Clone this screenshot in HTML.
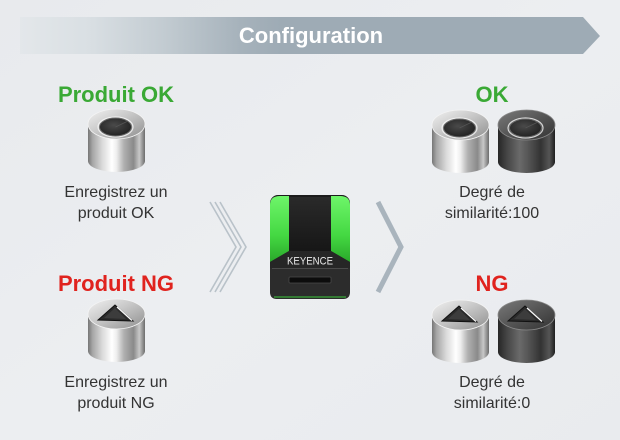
<!DOCTYPE html>
<html><head><meta charset="utf-8"><style>
html,body{margin:0;padding:0;background:#eaecef;}
svg{display:block;font-family:"Liberation Sans",sans-serif;}
</style></head><body>
<svg width="620" height="440" viewBox="0 0 620 440" xmlns="http://www.w3.org/2000/svg">
<defs>
  <linearGradient id="bg" x1="0" y1="0" x2="1" y2="1">
    <stop offset="0" stop-color="#e8eaed"/><stop offset="0.5" stop-color="#eceef1"/><stop offset="1" stop-color="#e9ebee"/>
  </linearGradient>
  <linearGradient id="ban" x1="20" y1="0" x2="600" y2="0" gradientUnits="userSpaceOnUse">
    <stop offset="0" stop-color="#e3e7ea"/><stop offset="0.12" stop-color="#d9dfe3"/><stop offset="0.25" stop-color="#c2cbd1"/><stop offset="0.38" stop-color="#a6b2bb"/><stop offset="0.45" stop-color="#9eabb5"/><stop offset="1" stop-color="#9eabb5"/>
  </linearGradient>
  <linearGradient id="sb" x1="0" y1="0" x2="1" y2="0">
    <stop offset="0" stop-color="#767676"/><stop offset="0.08" stop-color="#a6a6a6"/><stop offset="0.25" stop-color="#dadada"/><stop offset="0.42" stop-color="#ffffff"/><stop offset="0.5" stop-color="#eeeeee"/><stop offset="0.63" stop-color="#b0b0b0"/><stop offset="0.8" stop-color="#8a8a8a"/><stop offset="0.9" stop-color="#c8c8c8"/><stop offset="1" stop-color="#6c6c6c"/>
  </linearGradient>
  <linearGradient id="st" x1="0" y1="0" x2="1" y2="1">
    <stop offset="0" stop-color="#f2f2f2"/><stop offset="0.45" stop-color="#c8c8c8"/><stop offset="1" stop-color="#8e8e8e"/>
  </linearGradient>
  <linearGradient id="db" x1="0" y1="0" x2="1" y2="0">
    <stop offset="0" stop-color="#262626"/><stop offset="0.15" stop-color="#444"/><stop offset="0.38" stop-color="#6a6a6a"/><stop offset="0.52" stop-color="#575757"/><stop offset="0.75" stop-color="#333"/><stop offset="0.9" stop-color="#555"/><stop offset="1" stop-color="#1e1e1e"/>
  </linearGradient>
  <linearGradient id="dt" x1="0" y1="0" x2="1" y2="1">
    <stop offset="0" stop-color="#7a7a7a"/><stop offset="0.5" stop-color="#555"/><stop offset="1" stop-color="#333"/>
  </linearGradient>
  <radialGradient id="disk" cx="0.45" cy="0.4" r="0.7">
    <stop offset="0" stop-color="#4a4a4a"/><stop offset="1" stop-color="#1c1c1c"/>
  </radialGradient>
  <linearGradient id="grn" x1="0" y1="0" x2="0" y2="1">
    <stop offset="0" stop-color="#6ef56a"/><stop offset="0.6" stop-color="#44d842"/><stop offset="1" stop-color="#2aa82a"/>
  </linearGradient>
  <linearGradient id="blk" x1="0" y1="0" x2="0" y2="1">
    <stop offset="0" stop-color="#2a2a2a"/><stop offset="1" stop-color="#161616"/>
  </linearGradient>

  <g id="cylS">
    <path d="M0,15 L0,52 A28.5,11 0 0 0 57,52 L57,15 Z" fill="url(#sb)"/>
    <ellipse cx="28.5" cy="15" rx="28.5" ry="15" fill="url(#st)" stroke="#f4f4f4" stroke-width="0.8"/>
  </g>
  <g id="cylD">
    <path d="M0,15 L0,52 A28.5,11 0 0 0 57,52 L57,15 Z" fill="url(#db)"/>
    <ellipse cx="28.5" cy="15" rx="28.5" ry="15" fill="url(#dt)" stroke="#8a8a8a" stroke-width="0.8"/>
  </g>
  <g id="okTop">
    <ellipse cx="27.5" cy="18" rx="17.5" ry="10" fill="none" stroke="#f8f8f8" stroke-width="1.2" opacity="0.8"/>
    <ellipse cx="27.5" cy="18" rx="16" ry="9" fill="url(#disk)" stroke="#6a6a6a" stroke-width="1"/>
    <path d="M27.5,18 L40,12" stroke="#555" stroke-width="0.8"/>
  </g>
  <g id="ngTop">
    <path d="M27,6 L10,21 L45,22 Z" fill="#2a2a2a" stroke="#111" stroke-width="1"/>
    <path d="M29,8 L44,21.5" stroke="#fafafa" stroke-width="1.3"/>
    <path d="M27,9 L16,19 L38,20 Z" fill="#3c3c3c"/>
  </g>
</defs>

<rect width="620" height="440" fill="url(#bg)"/>

<!-- banner -->
<path d="M20,17 L583,17 L600,36 L583,54 L20,54 Z" fill="url(#ban)"/>
<text x="311" y="43" text-anchor="middle" font-size="22" font-weight="bold" fill="#ffffff">Configuration</text>

<!-- left OK -->
<text x="116" y="102" text-anchor="middle" font-size="22" font-weight="bold" fill="#3aa935">Produit OK</text>
<g transform="translate(88,109)"><use href="#cylS"/><use href="#okTop"/></g>
<text x="116" y="197" text-anchor="middle" font-size="16" fill="#333">Enregistrez un</text>
<text x="116" y="218" text-anchor="middle" font-size="16" fill="#333">produit OK</text>

<!-- left NG -->
<text x="116" y="291" text-anchor="middle" font-size="22" font-weight="bold" fill="#e0231e">Produit NG</text>
<g transform="translate(88,299)"><use href="#cylS"/><use href="#ngTop"/></g>
<text x="116" y="387" text-anchor="middle" font-size="16" fill="#333">Enregistrez un</text>
<text x="116" y="408" text-anchor="middle" font-size="16" fill="#333">produit NG</text>

<!-- right OK -->
<text x="492" y="102" text-anchor="middle" font-size="22" font-weight="bold" fill="#3aa935">OK</text>
<g transform="translate(432,110)"><use href="#cylS"/><use href="#okTop"/></g>
<g transform="translate(498,110)"><use href="#cylD"/><use href="#okTop"/></g>
<text x="492" y="197" text-anchor="middle" font-size="16" fill="#333">Degré de</text>
<text x="492" y="218" text-anchor="middle" font-size="16" fill="#333">similarité:100</text>

<!-- right NG -->
<text x="492" y="291" text-anchor="middle" font-size="22" font-weight="bold" fill="#e0231e">NG</text>
<g transform="translate(432,300)"><use href="#cylS"/><use href="#ngTop"/></g>
<g transform="translate(498,300)"><use href="#cylD"/><use href="#ngTop"/></g>
<text x="492" y="387" text-anchor="middle" font-size="16" fill="#333">Degré de</text>
<text x="492" y="408" text-anchor="middle" font-size="16" fill="#333">similarité:0</text>

<!-- left triple chevron -->
<g fill="none" stroke="#b9c2c9" stroke-width="1.6">
  <polyline points="210,202 236,247 210,292"/>
  <polyline points="215,202 241,247 215,292"/>
  <polyline points="220,202 246,247 220,292"/>
</g>
<!-- right chevron -->
<polyline points="378,202 401,247 378,292" fill="none" stroke="#a9b4bd" stroke-width="5"/>

<!-- device -->
<rect x="270" y="195" width="80" height="104" rx="8" fill="#1c1c1c"/>
<path d="M270,250 L289,240 L331,240 L350,250 L350,292 Q350,299 343,299 L277,299 Q270,299 270,292 Z" fill="#2c2c2c"/>
<path d="M270,205 Q270,196 280,196 L289,196 L289,251 L270,262 Z" fill="url(#grn)"/>
<path d="M350,205 Q350,196 340,196 L331,196 L331,251 L350,262 Z" fill="url(#grn)"/>
<rect x="289" y="197" width="42" height="55" fill="url(#blk)"/>
<path d="M270,262 L289,251 L331,251 L350,262 L350,268 L270,268 Z" fill="#262626"/>
<text x="310" y="264.5" text-anchor="middle" font-size="11" fill="#e8e8e8" textLength="46" lengthAdjust="spacingAndGlyphs">KEYENCE</text>
<rect x="272" y="268" width="76" height="1" fill="#4a4a4a"/>
<rect x="289" y="277" width="42" height="6" rx="1" fill="#0c0c0c" stroke="#4a4a4a" stroke-width="0.8"/>
<path d="M274,297 L346,297" stroke="#3aa83a" stroke-width="1.2"/>
</svg>
</body></html>
